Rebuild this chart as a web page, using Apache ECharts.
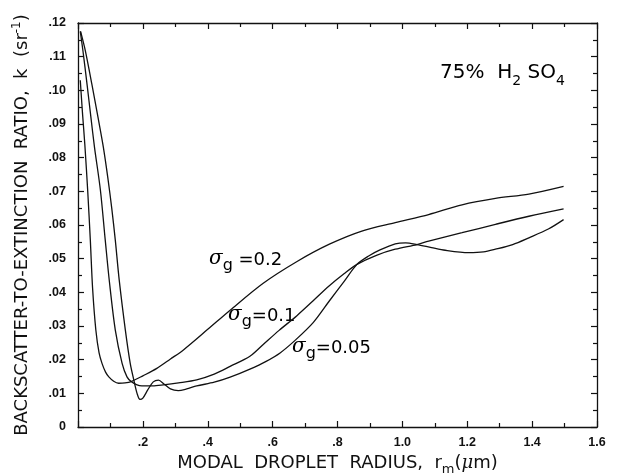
<!DOCTYPE html>
<html>
<head>
<meta charset="utf-8">
<script src="https://cdn.jsdelivr.net/npm/echarts@6/dist/echarts.min.js"></script>
<style>
  html, body { margin: 0; padding: 0; background: #fff; }
  #chart { width: 618px; height: 474px; }
</style>
</head>
<body>
<div id="chart"></div>
<script>
// [modal radius r_m (um), backscatter-to-extinction ratio k (1/sr)]
const SIGMA_005 = [
  [0.008, 0.1175], [0.023, 0.1116], [0.043, 0.1017], [0.062, 0.0918], [0.078, 0.0832],
  [0.092, 0.074], [0.104, 0.065], [0.115, 0.0555], [0.127, 0.0437], [0.146, 0.0288],
  [0.161, 0.0189], [0.172, 0.014], [0.182, 0.0100], [0.191, 0.0082], [0.2, 0.0086],
  [0.215, 0.011], [0.232, 0.0134], [0.248, 0.0139], [0.265, 0.0128], [0.285, 0.0113],
  [0.309, 0.0108], [0.335, 0.0113], [0.366, 0.0122], [0.42, 0.0133], [0.469, 0.0148],
  [0.53, 0.0172], [0.58, 0.0195], [0.623, 0.022], [0.67, 0.0258], [0.725, 0.031],
  [0.773, 0.0372], [0.82, 0.0432], [0.86, 0.0483], [0.896, 0.0508], [0.931, 0.0526],
  [0.978, 0.0544], [1.01, 0.0547], [1.045, 0.0542], [1.09, 0.0533], [1.132, 0.0525],
  [1.204, 0.0518], [1.25, 0.052], [1.287, 0.0528], [1.34, 0.0542], [1.39, 0.0562],
  [1.45, 0.0588], [1.497, 0.0616]
];

const SIGMA_01 = [
  [0.007, 0.1175], [0.0154, 0.1116], [0.028, 0.1017], [0.040, 0.0918], [0.051, 0.083],
  [0.069, 0.0704], [0.084, 0.0555], [0.097, 0.043], [0.115, 0.0288], [0.136, 0.0189],
  [0.151, 0.0149], [0.164, 0.0135], [0.18, 0.0126], [0.197, 0.0122], [0.23, 0.0122],
  [0.263, 0.0125], [0.31, 0.0131], [0.366, 0.014], [0.42, 0.0157], [0.469, 0.018],
  [0.53, 0.021], [0.571, 0.0245], [0.62, 0.0287], [0.674, 0.033], [0.725, 0.0375],
  [0.773, 0.0418], [0.82, 0.0455], [0.86, 0.0483], [0.92, 0.051], [0.978, 0.0528],
  [1.045, 0.0542], [1.081, 0.0552], [1.184, 0.0577], [1.287, 0.0602], [1.39, 0.0626],
  [1.497, 0.0648]
];

const SIGMA_02 = [
  [0.007, 0.103], [0.014, 0.093], [0.021, 0.084], [0.030, 0.07], [0.038, 0.0555],
  [0.045, 0.0412], [0.055, 0.0288], [0.065, 0.022], [0.074, 0.0189], [0.085, 0.0163],
  [0.095, 0.0149], [0.11, 0.0136], [0.125, 0.013], [0.145, 0.0131], [0.164, 0.0135],
  [0.2, 0.0152], [0.243, 0.0174], [0.285, 0.0202], [0.325, 0.0229], [0.4, 0.029],
  [0.469, 0.0347], [0.571, 0.0427], [0.674, 0.0491], [0.775, 0.0543], [0.875, 0.0582],
  [0.978, 0.0607], [1.081, 0.0631], [1.184, 0.066], [1.287, 0.0679], [1.39, 0.0692],
  [1.497, 0.0715]
];

const CURVES = [
  ["σg=0.05", SIGMA_005],
  ["σg=0.1", SIGMA_01],
  ["σg=0.2", SIGMA_02],
];

// 図中の注記: [σg の値, 左, 上]
const LABELS = [
  [" =0.2", 209, 249],
  ["=0.1", 228, 305],
  ["=0.05", 292, 337],
];

const INK = "#111";
const FONT = "'DejaVu Sans', sans-serif";
const TICK_FONT = "'Liberation Sans', Arial, sans-serif";

const xFmt = (v) => (v === 0 ? "" : v.toFixed(1).replace(/^0/, ""));
const yFmt = (v) => (v === 0 ? "0" : v.toFixed(2).replace(/^0/, ""));

const baseAxis = {
  type: "value",
  axisLine: { show: true, onZero: false, lineStyle: { color: INK, width: 1.3 } },
  axisTick: { show: true, inside: true, length: 6, lineStyle: { color: INK, width: 1.2 } },
  minorTick: { show: true, splitNumber: 2, length: 4, lineStyle: { color: INK, width: 1.2 } },
  splitLine: { show: false },
};

// 下付き文字は本文側を下パディングで持ち上げて表現する
const tok = (fontSize, lift, extra = {}) => ({
  fontFamily: FONT, fontSize, color: INK, verticalAlign: "bottom",
  padding: [0, 0, lift, 0], ...extra,
});

const sigmaRich = {
  s: tok(20, 5, { fontFamily: "'DejaVu Serif', serif", fontStyle: "italic" }),
  g: tok(16, 0),
  v: tok(18, 5),
};

const chart = echarts.init(document.getElementById("chart"), null, { renderer: "canvas" });

chart.setOption({
  backgroundColor: "#fff",
  animation: false,
  // v6 は軸名がはみ出すとグリッドを縮めるので、それを止めて位置を固定する
  grid: { left: 78, right: 21, top: 23, bottom: 47, outerBoundsMode: "none" },
  xAxis: [
    {
      ...baseAxis,
      min: 0, max: 1.6, interval: 0.2,
      position: "bottom",
      axisLabel: { formatter: xFmt, color: INK, fontSize: 12.5, fontWeight: "bold", fontFamily: TICK_FONT, margin: 9, showMaxLabel: true },
      name: "{r|MODAL  DROPLET  RADIUS,  r}{m|m}{r|(}{mu|μ}{r|m)}",
      nameLocation: "middle",
      nameGap: 21,
      nameTextStyle: {
        fontFamily: FONT, fontSize: 18, color: INK,
        rich: {
          r: tok(18, 4),
          m: tok(13, 0),
          mu: tok(18, 4, { fontFamily: "'DejaVu Serif', serif", fontStyle: "italic" }),
        },
      },
    },
    {
      ...baseAxis,
      min: 0, max: 1.6, interval: 0.2,
      position: "top",
      axisLabel: { show: false },
    },
  ],
  yAxis: [
    {
      ...baseAxis,
      min: 0, max: 0.12, interval: 0.01,
      position: "left",
      axisLabel: { formatter: yFmt, color: INK, fontSize: 12.5, fontWeight: "bold", fontFamily: TICK_FONT, margin: 12 },
      name: "{t|BACKSCATTER-TO-EXTINCTION  RATIO,  k  (sr}{sup|-1}{t|)}",
      nameLocation: "middle",
      nameRotate: 90,
      nameGap: 47,
      nameTextStyle: {
        fontFamily: FONT, fontSize: 18, color: INK,
        rich: { t: tok(18, 0), sup: tok(12, 8) },
      },
    },
    {
      ...baseAxis,
      min: 0, max: 0.12, interval: 0.01,
      position: "right",
      axisLabel: { show: false },
    },
  ],
  graphic: [
    {
      type: "text",
      left: 440,
      top: 63,
      style: {
        text: "{a|75%  H}{b|2}{a| SO}{b|4}",
        rich: { a: tok(20, 5), b: tok(14, 0) },
      },
    },
    ...LABELS.map(([value, left, top]) => ({
      type: "text",
      left,
      top,
      style: { text: `{s|σ}{g|g}{v|${value}}`, rich: sigmaRich },
    })),
  ],
  series: CURVES.map(([name, data]) => ({
    name,
    type: "line",
    data,
    showSymbol: false,
    smooth: 0.3,
    lineStyle: { color: INK, width: 1.3 },
  })),
});
</script>
</body>
</html>
